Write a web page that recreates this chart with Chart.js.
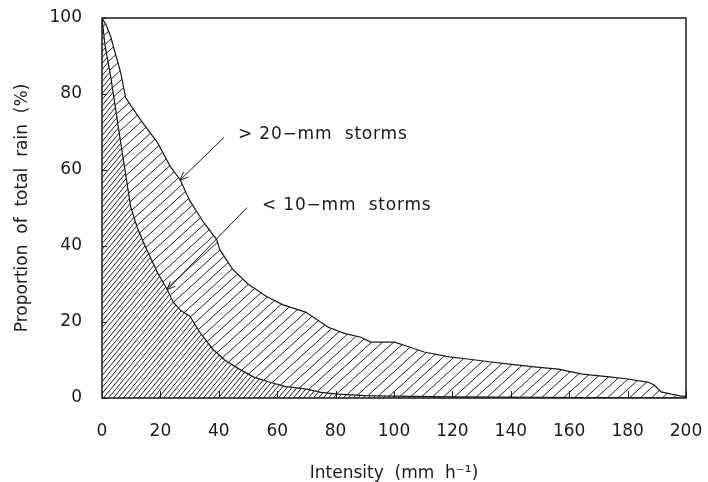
<!DOCTYPE html>
<html>
<head>
<meta charset="utf-8">
<script src="https://cdn.jsdelivr.net/npm/chart.js@4/dist/chart.umd.min.js"></script>
<style>
  html, body { margin: 0; padding: 0; background: #fff; }
</style>
</head>
<body>
<canvas id="rainChart" width="708" height="482"></canvas>
<script>
// cumulative share of rain falling above a given intensity
const bigStormIntensity = [0, 1.5, 3, 6.4, 8.1, 13.2, 19, 23.4, 26.7, 30, 35, 39.3, 40.3, 44.7, 50, 56.2, 62, 69.7, 77.5, 83, 88.7, 92, 100.2, 105, 110.3, 119, 125.9, 132, 139.4, 148, 156.3, 164.5, 174.6, 180, 186.8, 189, 191.5, 195, 198.3, 200];
const bigStormShare = [100, 98, 95, 85.6, 79, 73.2, 67.2, 60.9, 57.5, 52, 46, 41.7, 39.1, 33.9, 30, 26.8, 24.5, 22.6, 18.6, 17, 16, 14.7, 14.7, 13.5, 12.1, 10.8, 10.2, 9.6, 8.9, 8.2, 7.6, 6.3, 5.5, 5, 4.2, 3.5, 1.6, 1, 0.5, 0.5];

const smallStormIntensity = [0, 1, 3, 6.4, 9.8, 12, 14.2, 19, 22.3, 24.4, 27, 30.1, 33.5, 37.9, 42, 47, 52, 57.2, 63, 69.7, 75, 80.9, 90, 100, 120, 150, 200];
const smallStormShare = [100, 93, 84.5, 67.2, 50.4, 45, 40.9, 33, 28.6, 25.2, 23, 21.5, 17.3, 12.9, 10, 7.6, 5.5, 4.2, 3, 2.4, 1.5, 1, 0.6, 0.5, 0.3, 0.2, 0];

const xTicks = [0, 20, 40, 60, 80, 100, 120, 140, 160, 180, 200];
const yTicks = [0, 20, 40, 60, 80, 100];

// callout labels and their arrows, in data units
const calloutText = ['> 20\u2212mm  storms', '< 10\u2212mm  storms'];
const calloutAt = [[46.6, 69.4], [54.8, 50.7]];
const arrowFrom = [[41.8, 68.6], [49.7, 50.1]];
const arrowTo = [[26.7, 57.3], [22.3, 28.5]];

const FONT = '"DejaVu Sans", sans-serif';
const INK = '#1a1a1a';

function toPoints(xs, ys) {
  return xs.map((x, i) => ({ x: x, y: ys[i] }));
}

// diagonal hatch tile: w = horizontal period, h = rise over one period
function hatch(w, h) {
  const c = document.createElement('canvas');
  c.width = w;
  c.height = h;
  const g = c.getContext('2d');
  g.strokeStyle = '#222';
  g.lineWidth = 1;
  for (let k = -1; k <= 1; k++) {
    g.beginPath();
    g.moveTo(k * w - w, 2 * h);
    g.lineTo(k * w + 2 * w, -h);
    g.stroke();
  }
  return g.createPattern(c, 'repeat');
}

const denseHatch = hatch(5, 6);
const sparseHatch = hatch(11, 10);

const frame = {
  id: 'frame',
  afterDatasetsDraw(chart) {
    const { ctx, chartArea: a, scales: { x, y } } = chart;
    ctx.save();
    ctx.strokeStyle = INK;
    ctx.lineWidth = 1.5;
    ctx.strokeRect(a.left, a.top, a.right - a.left, a.bottom - a.top);

    // inward ticks
    ctx.lineWidth = 1;
    ctx.beginPath();
    xTicks.forEach(v => {
      const px = Math.round(x.getPixelForValue(v)) + 0.5;
      ctx.moveTo(px, a.bottom);
      ctx.lineTo(px, a.bottom - 7);
    });
    yTicks.forEach(v => {
      const py = Math.round(y.getPixelForValue(v)) + 0.5;
      ctx.moveTo(a.left, py);
      ctx.lineTo(a.left + 5, py);
    });
    ctx.stroke();

    // arrows
    ctx.lineWidth = 1;
    arrowFrom.forEach((from, i) => {
      const x0 = x.getPixelForValue(from[0]), y0 = y.getPixelForValue(from[1]);
      const x1 = x.getPixelForValue(arrowTo[i][0]), y1 = y.getPixelForValue(arrowTo[i][1]);
      const ang = Math.atan2(y1 - y0, x1 - x0);
      ctx.beginPath();
      ctx.moveTo(x0, y0);
      ctx.lineTo(x1, y1);
      [0.4, -0.4].forEach(d => {
        ctx.moveTo(x1, y1);
        ctx.lineTo(x1 - 9 * Math.cos(ang + d), y1 - 9 * Math.sin(ang + d));
      });
      ctx.stroke();
    });

    // callout text
    ctx.fillStyle = INK;
    ctx.font = '17px ' + FONT;
    ctx.textAlign = 'left';
    ctx.textBaseline = 'middle';
    ctx.letterSpacing = '0.8px';
    calloutText.forEach((t, i) => {
      ctx.fillText(t, x.getPixelForValue(calloutAt[i][0]), y.getPixelForValue(calloutAt[i][1]));
    });
    ctx.restore();
  }
};

new Chart(document.getElementById('rainChart'), {
  type: 'line',
  data: {
    datasets: [
      {
        label: '< 10-mm storms',
        data: toPoints(smallStormIntensity, smallStormShare),
        borderColor: INK,
        borderWidth: 1.2,
        backgroundColor: denseHatch,
        fill: 'origin',
        pointRadius: 0,
        tension: 0
      },
      {
        label: '> 20-mm storms',
        data: toPoints(bigStormIntensity, bigStormShare),
        borderColor: INK,
        borderWidth: 1.2,
        backgroundColor: sparseHatch,
        fill: 0,
        pointRadius: 0,
        tension: 0
      }
    ]
  },
  options: {
    responsive: false,
    animation: false,
    layout: { padding: { left: 0, right: 22, top: 18, bottom: 0 } },
    plugins: {
      legend: { display: false },
      tooltip: { enabled: false }
    },
    scales: {
      x: {
        type: 'linear',
        min: 0,
        max: 200,
        afterFit(scale) {
          scale.height = 84;
          scale.paddingLeft = 0;
          scale.paddingRight = 0;
        },
        afterBuildTicks(scale) { scale.ticks = xTicks.map(v => ({ value: v })); },
        grid: { display: false },
        border: { display: false },
        ticks: { padding: 15, color: INK, font: { family: FONT, size: 17 } },
        title: {
          display: true,
          text: 'Intensity  (mm  h\u207B\u00B9)',
          color: INK,
          font: { family: FONT, size: 17, lineHeight: 1 },
          padding: { top: 0, bottom: 0 }
        }
      },
      y: {
        min: 0,
        max: 100,
        afterFit(scale) {
          scale.width = 102;
          scale.paddingTop = 0;
          scale.paddingBottom = 0;
        },
        afterBuildTicks(scale) { scale.ticks = yTicks.map(v => ({ value: v })); },
        grid: { display: false },
        border: { display: false },
        ticks: { padding: 12, color: INK, font: { family: FONT, size: 17 } },
        title: {
          display: true,
          text: 'Proportion  of  total  rain  (%)',
          color: INK,
          font: { family: FONT, size: 17, lineHeight: 1 },
          padding: { top: 14, bottom: 0 }
        }
      }
    }
  },
  plugins: [frame]
});
</script>
</body>
</html>
